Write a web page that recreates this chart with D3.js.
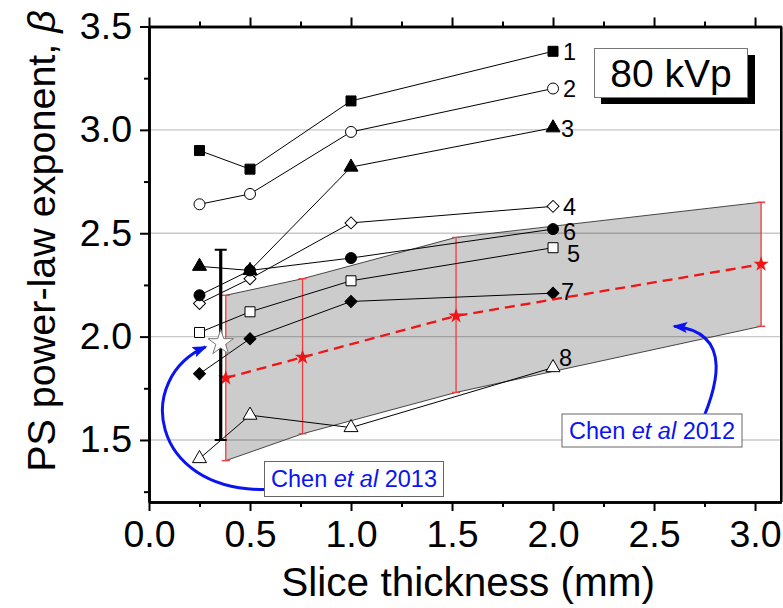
<!DOCTYPE html>
<html>
<head>
<meta charset="utf-8">
<script src="https://cdn.jsdelivr.net/npm/d3@7"></script>
<style>
  html, body { margin: 0; padding: 0; background: #fff; }
  svg { display: block; font-family: "Liberation Sans", Arial, sans-serif; }
</style>
</head>
<body>
<svg id="chart" width="783" height="608"></svg>
<script>
// ---------------- data ----------------
const sliceThickness = [0.25, 0.5, 1.0, 2.0];
const seriesNames = ["1", "2", "3", "4", "5", "6", "7", "8"];
const s1 = [2.90, 2.81, 3.14, 3.38];
const s2 = [2.64, 2.69, 2.99, 3.20];
const s3 = [2.34, 2.32, 2.82, 3.01];
const s4 = [2.16, 2.28, 2.55, 2.63];
const s5 = [2.02, 2.12, 2.27, 2.43];
const s6 = [2.20, 2.32, 2.38, 2.52];
const s7 = [1.82, 1.99, 2.17, 2.21];
const s8 = [1.41, 1.62, 1.56, 1.85];
const seriesValues = [s1, s2, s3, s4, s5, s6, s7, s8];

// Chen et al 2012 (mean with range)
const chen2012X = [0.38, 0.76, 1.52, 3.03];
const chen2012Mean = [1.80, 1.90, 2.10, 2.35];
const chen2012Upper = [2.20, 2.28, 2.48, 2.65];
const chen2012Lower = [1.40, 1.53, 1.73, 2.05];

// Chen et al 2013
const chen2013X = [0.355];
const chen2013Mean = [1.97];
const chen2013Upper = [2.42];
const chen2013Lower = [1.50];

const xTicks = [0.0, 0.5, 1.0, 1.5, 2.0, 2.5, 3.0];
const xMinorTicks = [0.25, 0.75, 1.25, 1.75, 2.25, 2.75];
const yTicks = [1.5, 2.0, 2.5, 3.0, 3.5];
const yMinorTicks = [1.25, 1.75, 2.25, 2.75, 3.25];
const gridValues = [1.5, 2.0, 2.5, 3.0];

// ---------------- styles / layout ----------------
const markerStyle = [
  {shape: "square",   fill: "#000"},
  {shape: "circle",   fill: "#fff"},
  {shape: "triangle", fill: "#000"},
  {shape: "diamond",  fill: "#fff"},
  {shape: "square",   fill: "#fff"},
  {shape: "circle",   fill: "#000"},
  {shape: "diamond",  fill: "#000"},
  {shape: "triangle", fill: "#fff"}
];
const labelOffset = [[10, 0], [10, 0], [8, 1], [10, 0], [14, 6], [10, 2], [8, -2], [6, -10]];

const W = 783, H = 608;
const margin = {left: 149, top: 26.5, right: 1.7, bottom: 106};

const svg = d3.select("#chart");
const x = d3.scaleLinear().domain([0, 3.13]).range([margin.left, W - margin.right]);
const y = d3.scaleLinear().domain([1.2, 3.5]).range([H - margin.bottom, margin.top]);

const x0 = x.range()[0], x1 = x.range()[1], y0 = y.range()[0], y1 = y.range()[1];

// defs
const defs = svg.append("defs");
defs.append("clipPath").attr("id", "plotclip")
  .append("rect").attr("x", x0).attr("y", y1).attr("width", x1 - x0).attr("height", y0 - y1);
defs.append("marker").attr("id", "bluehead")
  .attr("viewBox", "0 0 15 11").attr("refX", 13).attr("refY", 5.5)
  .attr("markerWidth", 5).attr("markerHeight", 3.7).attr("markerUnits", "strokeWidth")
  .attr("orient", "auto")
  .append("path").attr("d", "M0,0 L15,5.5 L0,11 L3,5.5 Z").attr("fill", "#0a14f0");

// grid
svg.append("g").selectAll("line").data(gridValues).join("line")
  .attr("x1", x0).attr("x2", x1)
  .attr("y1", d => y(d)).attr("y2", d => y(d))
  .attr("stroke", "#c8c8c8").attr("stroke-width", 1.3);

const plot = svg.append("g").attr("clip-path", "url(#plotclip)");

// band (Chen 2012 range)
const bandPts = chen2012X.map((d, i) => ({x: d, hi: chen2012Upper[i], lo: chen2012Lower[i]}));
plot.append("path").datum(bandPts)
  .attr("d", d3.area().x(d => x(d.x)).y0(d => y(d.lo)).y1(d => y(d.hi)))
  .attr("fill", "rgba(0,0,0,0.2)").attr("stroke", "none");
plot.append("path").datum(bandPts)
  .attr("d", d3.line().x(d => x(d.x)).y(d => y(d.hi)))
  .attr("fill", "none").attr("stroke", "#333").attr("stroke-width", 0.9);
plot.append("path").datum(bandPts)
  .attr("d", d3.line().x(d => x(d.x)).y(d => y(d.lo)))
  .attr("fill", "none").attr("stroke", "#333").attr("stroke-width", 0.9);

// red error bars
const eb = plot.append("g").attr("stroke", "#f03c3c").attr("stroke-width", 1.3);
bandPts.forEach(d => {
  eb.append("line").attr("x1", x(d.x)).attr("x2", x(d.x)).attr("y1", y(d.hi)).attr("y2", y(d.lo));
  eb.append("line").attr("x1", x(d.x) - 4).attr("x2", x(d.x) + 4).attr("y1", y(d.hi)).attr("y2", y(d.hi));
  eb.append("line").attr("x1", x(d.x) - 4).attr("x2", x(d.x) + 4).attr("y1", y(d.lo)).attr("y2", y(d.lo));
});

// series lines and markers
const symbolFor = {
  square: d3.symbol().type(d3.symbolSquare).size(100),
  circle: d3.symbol().type(d3.symbolCircle).size(95),
  triangle: d3.symbol().type(d3.symbolTriangle).size(85),
  diamond: d3.symbol().type(d3.symbolSquare).size(72)
};
seriesValues.forEach((vals, si) => {
  const pts = vals.map((v, i) => ({x: sliceThickness[i], y: v}));
  plot.append("path").datum(pts)
    .attr("d", d3.line().x(d => x(d.x)).y(d => y(d.y)))
    .attr("fill", "none").attr("stroke", "#000").attr("stroke-width", 1);
});
seriesValues.forEach((vals, si) => {
  const st = markerStyle[si];
  vals.forEach((v, i) => {
    plot.append("path")
      .attr("d", symbolFor[st.shape]())
      .attr("transform", `translate(${x(sliceThickness[i])},${y(v)})` + (st.shape === "diamond" ? " rotate(45)" : ""))
      .attr("fill", st.fill).attr("stroke", "#000").attr("stroke-width", 1);
  });
  const last = vals.length - 1;
  svg.append("text")
    .attr("x", x(sliceThickness[last]) + labelOffset[si][0])
    .attr("y", y(vals[last]) + labelOffset[si][1])
    .attr("dy", "0.36em")
    .attr("font-size", 23.5).attr("fill", "#000")
    .text(seriesNames[si]);
});

// Chen 2012 mean dashed line + stars
plot.append("path").datum(chen2012X.map((d, i) => ({x: d, y: chen2012Mean[i]})))
  .attr("d", d3.line().x(d => x(d.x)).y(d => y(d.y)))
  .attr("fill", "none").attr("stroke", "#f01414").attr("stroke-width", 2.3)
  .attr("stroke-dasharray", "10,6");
chen2012X.forEach((d, i) => {
  plot.append("path").attr("d", d3.symbol().type(d3.symbolStar).size(72)())
    .attr("transform", `translate(${x(d)},${y(chen2012Mean[i])})`)
    .attr("fill", "#f01414");
});

// Chen 2013 error bar + star
chen2013X.forEach((d, i) => {
  const g = plot.append("g").attr("stroke", "#000").attr("stroke-width", 3.2);
  g.append("line").attr("x1", x(d)).attr("x2", x(d)).attr("y1", y(chen2013Upper[i])).attr("y2", y(chen2013Lower[i]));
  g.append("line").attr("x1", x(d) - 6).attr("x2", x(d) + 6).attr("y1", y(chen2013Upper[i])).attr("y2", y(chen2013Upper[i])).attr("stroke-width", 2);
  g.append("line").attr("x1", x(d) - 6).attr("x2", x(d) + 6).attr("y1", y(chen2013Lower[i])).attr("y2", y(chen2013Lower[i])).attr("stroke-width", 2);
  plot.append("path").attr("d", d3.symbol().type(d3.symbolStar).size(200)())
    .attr("transform", `translate(${x(d)},${y(chen2013Mean[i])})`)
    .attr("fill", "#fff").attr("stroke", "#777").attr("stroke-width", 1);
});

// axes
const axisG = svg.append("g");
function styleAxis(g) {
  g.select(".domain").attr("stroke", "#000").attr("stroke-width", 2.6);
  g.selectAll(".tick line").attr("stroke", "#000").attr("stroke-width", 2);
  g.selectAll(".tick text").attr("fill", "#000").attr("font-size", 37.5)
    .attr("font-family", "'Liberation Sans', Arial, sans-serif");
}
axisG.append("g").attr("transform", `translate(0,${y0})`)
  .call(d3.axisBottom(x).tickValues(xMinorTicks).tickSize(5).tickSizeOuter(0).tickFormat(""))
  .call(styleAxis);
axisG.append("g").attr("transform", `translate(0,${y0})`)
  .call(d3.axisBottom(x).tickValues(xTicks).tickSize(9).tickPadding(9).tickSizeOuter(0).tickFormat(d3.format(".1f")))
  .call(styleAxis);
axisG.append("g").attr("transform", `translate(0,${y1})`)
  .call(d3.axisTop(x).tickValues(xMinorTicks).tickSize(5).tickSizeOuter(0).tickFormat(""))
  .call(styleAxis);
axisG.append("g").attr("transform", `translate(0,${y1})`)
  .call(d3.axisTop(x).tickValues(xTicks).tickSize(9).tickSizeOuter(0).tickFormat(""))
  .call(styleAxis);
axisG.append("g").attr("transform", `translate(${x0},0)`)
  .call(d3.axisLeft(y).tickValues(yMinorTicks).tickSize(5).tickSizeOuter(0).tickFormat(""))
  .call(styleAxis);
axisG.append("g").attr("transform", `translate(${x0},0)`)
  .call(d3.axisLeft(y).tickValues(yTicks).tickSize(9).tickPadding(8).tickSizeOuter(0).tickFormat(d3.format(".1f")))
  .call(styleAxis);
axisG.append("line").attr("x1", x1).attr("x2", x1).attr("y1", y1).attr("y2", y0)
  .attr("stroke", "#000").attr("stroke-width", 2.6);

// axis titles
svg.append("text").attr("x", (x0 + x1) / 2 + 3).attr("y", 596)
  .attr("text-anchor", "middle").attr("font-size", 40.5).attr("fill", "#000")
  .text("Slice thickness (mm)");
const yt = svg.append("text").attr("transform", "translate(55,241) rotate(-90)")
  .attr("text-anchor", "middle").attr("font-size", 39.5).attr("fill", "#000");
yt.append("tspan").text("PS power-law exponent, ");
yt.append("tspan").attr("font-style", "italic").text("β");

// 80 kVp box
svg.append("rect").attr("x", 601).attr("y", 55).attr("width", 154).attr("height", 49).attr("fill", "#000");
svg.append("rect").attr("x", 594.5).attr("y", 48.5).attr("width", 153).attr("height", 49)
  .attr("fill", "#fff").attr("stroke", "#777").attr("stroke-width", 1);
svg.append("text").attr("x", 671).attr("y", 86.5).attr("text-anchor", "middle")
  .attr("font-size", 39).attr("fill", "#000").text("80 kVp");

// annotation labels
function noteBox(bx, by, bw, bh, year) {
  svg.append("rect").attr("x", bx).attr("y", by).attr("width", bw).attr("height", bh)
    .attr("fill", "#fff").attr("stroke", "#666").attr("stroke-width", 1);
  const t = svg.append("text").attr("x", bx + bw / 2).attr("y", by + bh / 2).attr("dy", "0.36em")
    .attr("text-anchor", "middle").attr("font-size", 23.5).attr("fill", "#0a14f0");
  t.append("tspan").text("Chen ");
  t.append("tspan").attr("font-style", "italic").text("et al");
  t.append("tspan").text(" " + year);
}
// arrows (behind boxes)
svg.append("path")
  .attr("d", `M ${x(0.57)},${y(1.26)} C ${x(0.0)},${y(1.26)} ${x(-0.07)},${y(1.80)} ${x(0.28)},${y(1.95)}`)
  .attr("fill", "none").attr("stroke", "#0a14f0").attr("stroke-width", 3).attr("marker-end", "url(#bluehead)");
svg.append("path")
  .attr("d", `M ${x(2.70)},${y(1.51)} C ${x(2.82)},${y(1.75)} ${x(2.90)},${y(2.02)} ${x(2.60)},${y(2.05)}`)
  .attr("fill", "none").attr("stroke", "#0a14f0").attr("stroke-width", 3).attr("marker-end", "url(#bluehead)");
noteBox(264.5, 461.5, 179, 35, "2013");
noteBox(562, 414, 180, 33, "2012");
</script>
</body>
</html>
